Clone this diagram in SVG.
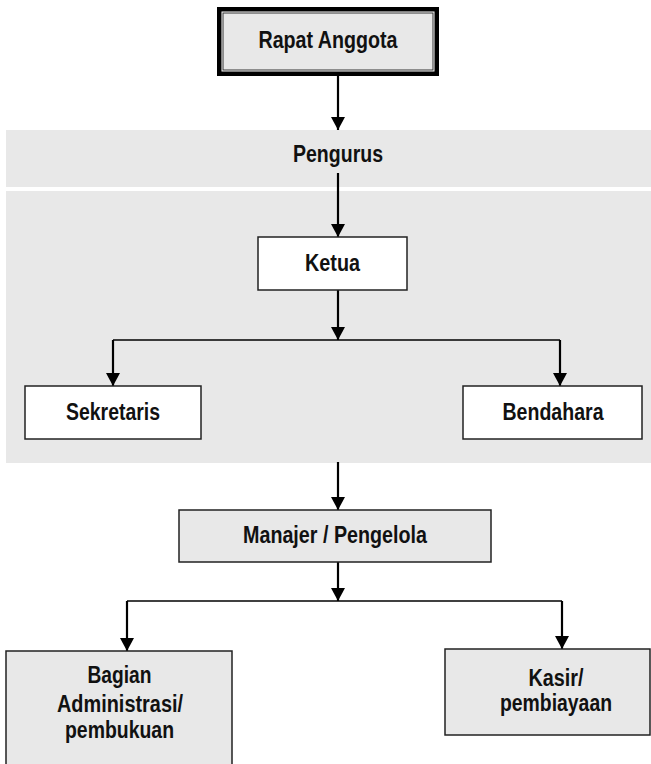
<svg xmlns="http://www.w3.org/2000/svg" width="651" height="764" viewBox="0 0 651 764">
<style>
text{font-family:"Liberation Sans",Arial,sans-serif;font-weight:bold;font-size:23px;fill:#111;text-anchor:middle}
.box{stroke:#222;stroke-width:1.5}
.w{fill:#fff}
.g{fill:#e8e8e8}
.v{fill:none;stroke:#000;stroke-width:2.2;marker-end:url(#ah)}
.h{fill:none;stroke:#000;stroke-width:1.6}
</style>
<defs>
<marker id="ah" markerWidth="13" markerHeight="14" refX="13" refY="7" orient="auto" markerUnits="userSpaceOnUse"><path d="M0,0 L13,7 L0,14 z" fill="#000"/></marker>
</defs>
<g id="bands">
<rect x="6" y="130" width="645" height="57" fill="#e8e8e8"/>
<rect x="6" y="191" width="645" height="272" fill="#e8e8e8"/>
</g>
<g id="connectors">
<path class="v" d="M338,76 V130"/>
<path class="v" d="M338,173 V237"/>
<path class="v" d="M338,290 V340"/>
<path class="h" d="M113,340 H560"/>
<path class="v" d="M113,340 V386"/>
<path class="v" d="M560,340 V386"/>
<path class="v" d="M338,462 V510"/>
<path class="v" d="M338,562 V601"/>
<path class="h" d="M127,601 H562"/>
<path class="v" d="M127,601 V651"/>
<path class="v" d="M562,601 V649"/>
</g>
<g id="rapat-anggota">
<rect x="217" y="7" width="222" height="69" fill="#000"/>
<rect x="221.5" y="11.5" width="213" height="60" fill="#fff"/>
<rect x="223" y="13" width="210" height="57" fill="#e8e8e8" stroke="#333" stroke-width="1"/>
<text x="328" y="48" textLength="139" lengthAdjust="spacingAndGlyphs">Rapat Anggota</text>
</g>
<g id="pengurus">
<text x="338" y="162" textLength="90" lengthAdjust="spacingAndGlyphs">Pengurus</text>
</g>
<g id="ketua">
<rect class="box w" x="258" y="237" width="149" height="53"/>
<text x="332.5" y="271" textLength="55" lengthAdjust="spacingAndGlyphs">Ketua</text>
</g>
<g id="sekretaris">
<rect class="box w" x="25" y="386" width="176" height="53"/>
<text x="113" y="420" textLength="94" lengthAdjust="spacingAndGlyphs">Sekretaris</text>
</g>
<g id="bendahara">
<rect class="box w" x="463" y="386" width="179" height="53"/>
<text x="553" y="420" textLength="101" lengthAdjust="spacingAndGlyphs">Bendahara</text>
</g>
<g id="manajer">
<rect class="box g" x="179" y="510" width="312" height="52"/>
<text x="335" y="543" textLength="184" lengthAdjust="spacingAndGlyphs">Manajer / Pengelola</text>
</g>
<g id="bagian">
<rect class="box g" x="6" y="651" width="226" height="120"/>
<text x="119.5" y="683" textLength="64" lengthAdjust="spacingAndGlyphs">Bagian</text>
<text x="120" y="712" textLength="126" lengthAdjust="spacingAndGlyphs">Administrasi/</text>
<text x="119.5" y="738" textLength="109" lengthAdjust="spacingAndGlyphs">pembukuan</text>
</g>
<g id="kasir">
<rect class="box g" x="445" y="649" width="205" height="86"/>
<text x="556" y="686" textLength="55" lengthAdjust="spacingAndGlyphs">Kasir/</text>
<text x="556" y="711" textLength="112" lengthAdjust="spacingAndGlyphs">pembiayaan</text>
</g>
</svg>
